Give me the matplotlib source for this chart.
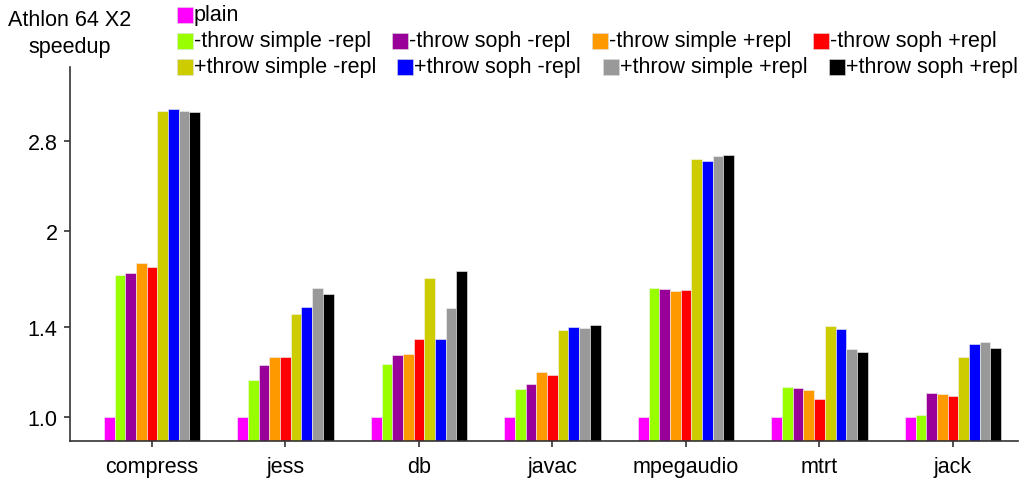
import numpy as np
import matplotlib.pyplot as plt
from matplotlib.patches import Rectangle

# datos
benchmarks = ["compress", "jess", "db", "javac", "mpegaudio", "mtrt", "jack"]

series_labels = ["plain",
                 "-throw simple -repl", "-throw soph -repl",
                 "-throw simple +repl", "-throw soph +repl",
                 "+throw simple -repl", "+throw soph -repl",
                 "+throw simple +repl", "+throw soph +repl"]

series_colors = ["#FF00FF", "#99FF00", "#990099", "#FF9900", "#FF0000",
                 "#CCCC00", "#0000FF", "#999999", "#000000"]

plain = [1.0, 1.0, 1.0, 1.0, 1.0, 1.0, 1.0]
m_simple_m_repl = [1.70, 1.148, 1.218, 1.11, 1.62, 1.116, 1.006]
m_soph_m_repl = [1.71, 1.214, 1.26, 1.13, 1.612, 1.114, 1.092]
m_simple_p_repl = [1.78, 1.251, 1.265, 1.181, 1.60, 1.106, 1.09]
m_soph_p_repl = [1.75, 1.248, 1.338, 1.17, 1.607, 1.069, 1.08]
p_simple_m_repl = [3.14, 1.47, 1.68, 1.382, 2.62, 1.403, 1.251]
p_soph_m_repl = [3.16, 1.507, 1.338, 1.397, 2.60, 1.387, 1.313]
p_simple_p_repl = [3.14, 1.618, 1.502, 1.395, 2.655, 1.287, 1.321]
p_soph_p_repl = [3.13, 1.582, 1.722, 1.411, 2.66, 1.274, 1.292]

series_values = [plain, m_simple_m_repl, m_soph_m_repl, m_simple_p_repl,
                 m_soph_p_repl, p_simple_m_repl, p_soph_m_repl,
                 p_simple_p_repl, p_soph_p_repl]

ytick_values = [1.0, 1.4, 2, 2.8]
ytick_labels = ["1.0", "1.4", "2", "2.8"]

plt.rcParams['font.family'] = ['Liberation Sans', 'DejaVu Sans']

W, H = 1024, 481
fig = plt.figure(figsize=(W / 100, H / 100), dpi=100)
ax = fig.add_axes([70 / W, 39 / H, 948 / W, 374 / H])

x = np.arange(len(benchmarks))
ancho = 0.08
base = 0.5
for i, (vals, col) in enumerate(zip(series_values, series_colors)):
    desplaz = (i - 4) * ancho
    ax.bar(x + desplaz, np.array(vals) - base, width=ancho, bottom=base,
           color=col, edgecolor="#f4f4f4", linewidth=0.4)

ax.set_yscale("log")
ax.set_ylim(0.913, 3.70)
ax.set_xlim(-0.614, 6.487)
ax.set_yticks(ytick_values)
ax.set_yticklabels(ytick_labels)
ax.minorticks_off()
ax.set_xticks(x)
ax.set_xticklabels(benchmarks)

for lado in ["top", "right"]:
    ax.spines[lado].set_visible(False)
for lado in ["left", "bottom"]:
    ax.spines[lado].set_color("#333333")
    ax.spines[lado].set_linewidth(1.2)
ax.tick_params(axis="both", labelsize=15.5, colors="#333333", labelcolor="black",
               length=4, width=1.2)
ax.tick_params(axis="y", pad=5)
ax.tick_params(axis="x", pad=7)

# etiqueta del eje y arriba a la izquierda
fig.text(70 / W, 1 - 21 / H, "Athlon 64 X2", ha="center", va="center", fontsize=15.5)
fig.text(70 / W, 1 - 47 / H, "speedup", ha="center", va="center", fontsize=15.5)

# leyenda colocada a mano (posiciones en pixeles)
pos_leyenda = [(177, 16),
               (177, 42), (392, 42), (592, 42), (813, 42),
               (177, 68), (397, 68), (603, 68), (829, 68)]
for (px, py), lab, col in zip(pos_leyenda, series_labels, series_colors):
    fig.patches.append(Rectangle(((px) / W, 1 - (py + 8) / H), 16 / W, 16 / H,
                                 transform=fig.transFigure, facecolor=col,
                                 edgecolor="#dddddd", linewidth=0.4))
    fig.text((px + 17) / W, 1 - py / H, lab, ha="left", va="center", fontsize=15.5)

fig.savefig("out.png", dpi=100)
